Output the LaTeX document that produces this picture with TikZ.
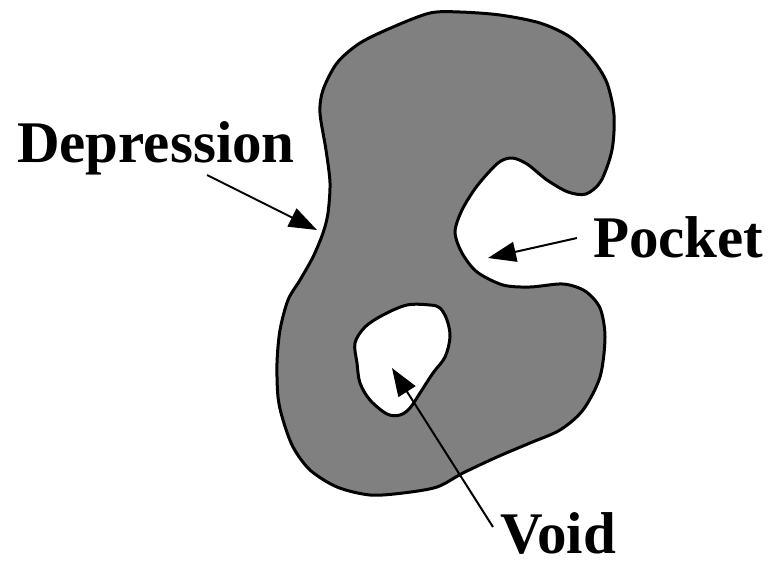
\documentclass[tikz,border=0pt]{standalone}
\usepackage{fontspec}
\setmainfont{Liberation Serif}
\usetikzlibrary{arrows.meta}
\definecolor{bodygray}{HTML}{808080}
\tikzset{
  outline/.style={draw=black, line width=3pt, fill=bodygray, even odd rule},
  lbl/.style={anchor=base west, inner sep=0pt, font=\fontsize{59}{59}\selectfont\bfseries},
  pointer/.style={draw=black, line width=2pt, -{Triangle[length=28pt,width=20pt]}}
}
\begin{document}
\begin{tikzpicture}[x=1pt,y=-1pt]
\useasboundingbox (0,0) rectangle (773,560);
\path[outline]
  plot[smooth cycle, tension=0.5] coordinates {
    (460,12) (500,15) (540,23) (570,37) (593,60) (607,83) (614,115) (612,150)
    (601,181) (586,194) (568,192) (547,180) (527,164) (512,158) (498,163)
    (477,186) (462,210) (455,232) (462,253) (477,272) (503,285) (530,287)
    (563,284) (585,291) (600,308) (605,337) (600,377) (583,410) (560,430)
    (530,443) (497,457) (463,473) (437,487) (403,493) (370,495) (337,487)
    (310,470) (293,447) (283,420) (278,397) (277,363) (280,330) (288,300)
    (300,280) (313,257) (323,233) (328,213) (330,183) (326,150) (320,113)
    (323,90) (337,63) (360,43) (393,27) (430,13)
  }
  plot[smooth cycle, tension=0.55] coordinates {
    (430,305) (407,305) (383,315) (365,327) (355,343) (357,363) (360,383)
    (370,400) (387,414) (400,415) (410,408) (420,393) (433,373) (445,357)
    (450,337) (447,320) (440,308)
  };
\node[lbl] (dep) at (17,162) {Depression};
\node[lbl] (poc) at (593,257) {Pocket};
\node[lbl] (voi) at (500,553) {Void};
\coordinate (deptail) at (207,175);
\coordinate (deptip) at (317,230);
\coordinate (poctail) at (577,238);
\coordinate (poctip) at (488,258);
\coordinate (voitail) at (493,527);
\coordinate (voitip) at (392,368);
\draw[pointer] (deptail) -- (deptip);
\draw[pointer] (poctail) -- (poctip);
\draw[pointer] (voitail) -- (voitip);
\end{tikzpicture}
\end{document}
